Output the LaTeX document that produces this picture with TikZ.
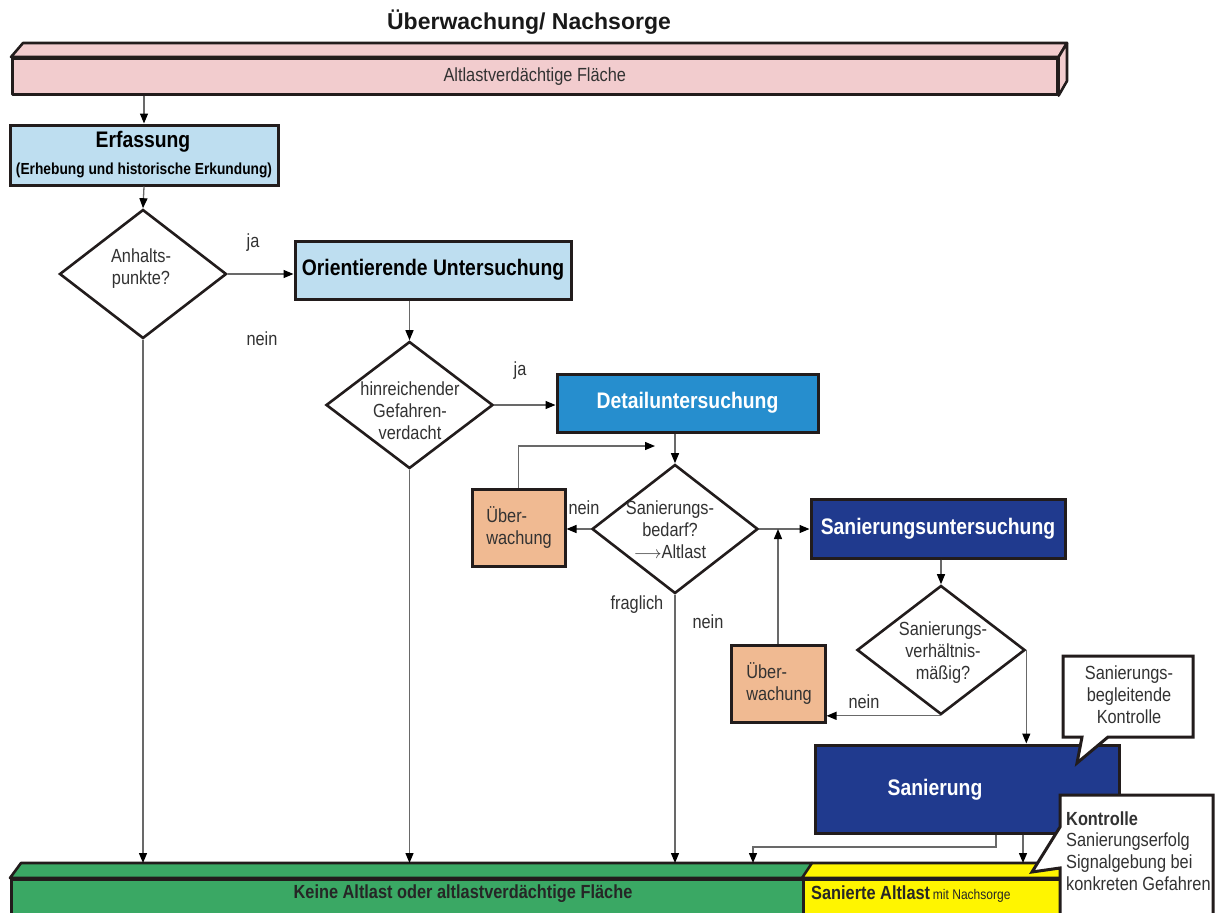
\documentclass[tikz,border=0pt]{standalone}
\usepackage{fontspec}
\setmainfont{Liberation Sans}
\newfontfamily\nar[FakeStretch=0.86]{Liberation Sans}
\usetikzlibrary{shapes.geometric,arrows.meta}

\definecolor{pinkbar}{RGB}{242,204,206}
\definecolor{lightblue}{RGB}{190,222,240}
\definecolor{midblue}{RGB}{38,142,206}
\definecolor{navy}{RGB}{32,58,142}
\definecolor{peach}{RGB}{240,186,146}
\definecolor{greenbar}{RGB}{58,168,100}
\definecolor{yellowbar}{RGB}{255,245,0}
\definecolor{edge}{RGB}{34,28,28}
\definecolor{wirecol}{RGB}{105,105,105}
\definecolor{ink}{RGB}{50,50,50}

\newcommand{\fsz}[2]{\fontsize{#1}{#2}\selectfont}

\begin{document}
\begin{tikzpicture}[x=1pt,y=-1pt,
  box/.style={draw=edge, line width=3pt, rectangle, inner sep=0pt},
  dia/.style={draw=edge, line width=2.6pt, diamond, inner sep=0pt, fill=white},
  barface/.style={draw=edge, line width=2.6pt, line join=round},
  wire/.style={draw=wirecol, line width=1.3pt,
    -{Triangle[length=10pt,width=8pt,color=black]}},
  plainwire/.style={draw=wirecol, line width=1.3pt},
  lbl/.style={font=\nar\fsz{19}{22}, text=ink, inner sep=0pt, align=center},
  head/.style={font=\nar\bfseries\fsz{22.5}{26}, inner sep=0pt},
  callout/.style={draw=edge, line width=3pt, fill=white, line join=miter}
]
\useasboundingbox[fill=white] (0,0) rectangle (1216,913);

% title
\node[font=\bfseries\fsz{23}{26}, text=black!90] (title) at (529,22) {Überwachung/ Nachsorge};

% upper bar (3D)
\node[barface, fill=pinkbar, anchor=north west, minimum width=1045pt,
      minimum height=36pt, inner sep=0pt, font=\nar\fsz{19}{22}, text=ink]
      (pinkfront) at (11,57) {Altlastverdächtige Fläche};
\draw[barface, fill=pinkbar] (pinkfront.north west) -- ++(12,-14) -- (1067,43)
      -- (pinkfront.north east) -- cycle;
\draw[barface, fill=pinkbar] (pinkfront.north east) -- (1067,43) -- (1067,81)
      -- (pinkfront.south east) -- cycle;

% lower bar (3D), green and yellow parts
\coordinate (gtop) at (0,863);
\node[barface, fill=greenbar, anchor=north west, minimum width=792pt,
      minimum height=42pt, inner sep=0pt] (greenfront) at (10,878) {};
\draw[barface, fill=greenbar] (greenfront.north west) -- (21,863) -- (812,863)
      -- (greenfront.north east) -- cycle;
\node[barface, fill=yellowbar, anchor=north west, minimum width=262pt,
      minimum height=42pt, inner sep=0pt] (yellowfront) at (802,878) {};
\draw[barface, fill=yellowbar] (yellowfront.north west) -- (812,863) -- (1074,863)
      -- (yellowfront.north east) -- cycle;
\node[font=\nar\bfseries\fsz{19}{22}, text=black!85, inner sep=0pt] (greentext)
      at (463,894) {Keine Altlast oder altlastverdächtige Fläche};
\node[anchor=west, inner sep=0pt, text=black!85] (yellowtext) at (811,894)
      {{\nar\bfseries\fsz{19}{22}Sanierte Altlast} {\nar\fsz{14}{16}mit Nachsorge}};

% process boxes
\node[box, fill=lightblue, minimum width=268pt, minimum height=60pt] (erf) at (144,155) {};
\node[head, fill=none] (erft) at (143,142) {Erfassung};
\node[font=\nar\bfseries\fsz{16}{18}, inner sep=0pt] (erfs) at (144,170)
      {(Erhebung und historische Erkundung)};

\node[box, fill=lightblue, minimum width=276pt, minimum height=58pt, head] (orient)
      at (433,270) {Orientierende Untersuchung};
\node[box, fill=midblue, minimum width=261pt, minimum height=58pt, head, text=white]
      (detail) at (687.5,403) {Detailuntersuchung};
\node[box, fill=navy, minimum width=254pt, minimum height=59pt, head, text=white]
      (sanu) at (938,528.5) {Sanierungsuntersuchung};
\node[box, fill=navy, minimum width=304pt, minimum height=88pt] (san) at (967,789) {};
\node[head, text=white] (sant) at (935,790) {Sanierung};

\node[box, fill=peach, minimum width=93pt, minimum height=77pt] (ueb1) at (518.5,527.5) {};
\node[lbl, align=left] (ueb1t) at (519,528) {Über-\\wachung};
\node[box, fill=peach, minimum width=94pt, minimum height=77pt] (ueb2) at (778,683.5) {};
\node[lbl, align=left] (ueb2t) at (779,684) {Über-\\wachung};

% decisions
\node[dia, minimum width=167pt, minimum height=129pt] (d1) at (143,274) {};
\node[lbl] (d1t) at (141,269) {Anhalts-\\punkte?};
\node[dia, minimum width=167pt, minimum height=127pt] (d2) at (409.5,405) {};
\node[lbl] (d2t) at (410,411) {hinreichender\\Gefahren-\\verdacht};
\node[dia, minimum width=166pt, minimum height=129pt] (d3) at (675,529) {};
\node[lbl] (d3t) at (670,530) {Sanierungs-\\bedarf?\\$\longrightarrow$Altlast};
\node[dia, minimum width=168pt, minimum height=129pt] (d4) at (941,650) {};
\node[lbl] (d4t) at (943,653) {Sanierungs-\\verhältnis-\\mäßig?};

% connectors
\draw[wire] (erf.north |- pinkfront.south) -- (erf.north);
\draw[wire] (erf.south) -- (d1.north);
\draw[wire] (d1.east) -- (d1.east -| orient.west);
\draw[wire] (d1.south) -- (d1.south |- gtop);
\draw[wire] (d2.north |- orient.south) -- (d2.north);
\draw[wire] (d2.east) -- (d2.east -| detail.west);
\draw[wire] (d2.south) -- (d2.south |- gtop);
\draw[wire] (d3.north |- detail.south) -- (d3.north);
\draw[wire] (d3.west) -- (d3.west -| ueb1.east);
\coordinate (back1) at (655,446);
\draw[wire] (ueb1.north) -- (ueb1.north |- back1) -- (back1);
\draw[wire] (d3.east) -- (d3.east -| sanu.west);
\draw[wire] (ueb2.north) -- (ueb2.north |- d3.east);
\draw[wire] (d3.south) -- (d3.south |- gtop);
\draw[wire] (d4.north |- sanu.south) -- (d4.north);
\draw[wire] (d4.south) -- (d4.south -| ueb2.east);
\draw[wire] (d4.east) -- (d4.east |- san.north);
\coordinate (s1) at (996,847);
\coordinate (s2) at (753,847);
\draw[wire] (s1 |- san.south) -- (s1) -- (s2) -- (s2 |- gtop);
\coordinate (s3) at (1023,850);
\draw[wire] (s3 |- san.south) -- (s3 |- gtop);

% branch labels
\node[lbl] (lja1) at (253,243) {ja};
\node[lbl] (lnein1) at (262,339) {nein};
\node[lbl] (lja2) at (520,371) {ja};
\node[lbl] (lnein2) at (584,508) {nein};
\node[lbl] (lfrag) at (637,605) {fraglich};
\node[lbl] (lnein3) at (708,622) {nein};
\node[lbl] (lnein4) at (864,702) {nein};

% callouts
\draw[callout] (1063,656) -- (1193,656) -- (1193,737) -- (1108,737) -- (1077,763)
      -- (1082,737) -- (1063,737) -- cycle;
\node[lbl] (c1t) at (1129,695) {Sanierungs-\\begleitende\\Kontrolle};
\draw[callout] (1060,868) -- (1060,925) -- (1213,925) -- (1213,795) -- (1060,795)
      -- (1060,827) -- (1032,872) -- cycle;
\node[lbl, align=left, anchor=west, font=\nar\fsz{19}{21.7}] (c2t) at (1066,851)
      {{\bfseries Kontrolle}\\Sanierungserfolg\\Signalgebung bei\\konkreten Gefahren};
\end{tikzpicture}
\end{document}
